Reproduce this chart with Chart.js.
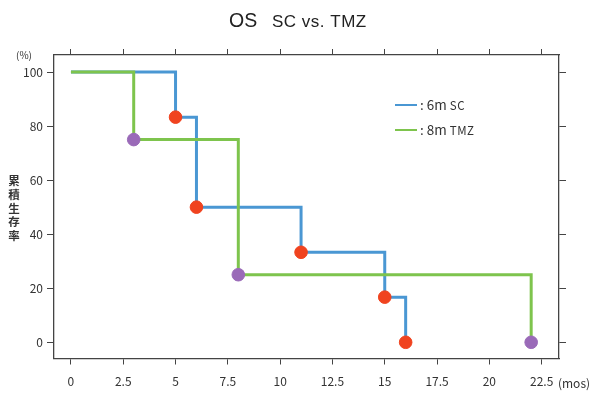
<!DOCTYPE html>
<html>
<head>
<meta charset="utf-8">
<script src="https://cdn.jsdelivr.net/npm/chart.js@4.4.1/dist/chart.umd.min.js"></script>
<style>
  body { margin: 0; background: #fff; }
  #wrap { width: 592px; height: 394px; }
</style>
</head>
<body>
<div id="wrap"><canvas id="osChart"></canvas></div>
<script>
// survival data (months, %)
const scMonths = [0, 5, 6, 11, 15, 16];
const scSurvival = [100, 83.3, 50, 33.3, 16.7, 0];
const tmzMonths = [0, 3, 8, 22];
const tmzSurvival = [100, 75, 25, 0];
// event markers
const scEventMonths = [5, 6, 11, 15, 16];
const scEventSurvival = [83.3, 50, 33.3, 16.7, 0];
const tmzEventMonths = [3, 8, 22];
const tmzEventSurvival = [75, 25, 0];
// tick labels
const xTicks = [0, 2.5, 5, 7.5, 10, 12.5, 15, 17.5, 20, 22.5];
const yTicks = [0, 20, 40, 60, 80, 100];

const blue = '#4a97d3', green = '#7ec44d', red = '#f0431f', purple = '#9a6ab8';
const axisColor = '#444';

function toPoints(xs, ys) {
    return xs.map((x, i) => ({x: x, y: ys[i]}));
}

// draws the title, legend and axis captions
const textPlugin = {
    id: 'texts',
    afterDraw(chart) {
        const ctx = chart.ctx;
        ctx.save();
        ctx.fillStyle = '#222';
        ctx.textBaseline = 'alphabetic';
        ctx.textAlign = 'left';
        // title
        ctx.font = '19.5px "Liberation Sans", Arial, sans-serif';
        ctx.fillText('OS', 229, 27);
        ctx.font = '17px "Liberation Sans", Arial, sans-serif';
        ctx.letterSpacing = '0.5px';
        ctx.fillText('SC vs. TMZ', 272, 27);
        ctx.letterSpacing = '0px';
        // legend
        const rows = [
            {color: blue, big: ': 6m', small: 'SC', y: 105},
            {color: green, big: ': 8m', small: 'TMZ', y: 130}
        ];
        rows.forEach(r => {
            ctx.strokeStyle = r.color;
            ctx.lineWidth = 2;
            ctx.beginPath();
            ctx.moveTo(395, r.y);
            ctx.lineTo(417, r.y);
            ctx.stroke();
            ctx.fillStyle = '#333';
            ctx.font = '13.5px "Noto Sans CJK JP", sans-serif';
            ctx.fillText(r.big, 420, r.y + 5);
            const w = ctx.measureText(r.big + ' ').width;
            ctx.font = '11.5px "Noto Sans CJK JP", sans-serif';
            ctx.letterSpacing = '0.5px';
            ctx.fillText(r.small, 420 + w, r.y + 5);
            ctx.letterSpacing = '0px';
        });
        // y caption, characters stacked
        ctx.fillStyle = '#333';
        ctx.textAlign = 'center';
        ctx.textBaseline = 'middle';
        ctx.font = 'bold 11.5px "Noto Sans CJK JP", sans-serif';
        const yCaption = '累積生存率';
        for (let i = 0; i < yCaption.length; i++) {
            ctx.fillText(yCaption[i], 14, 181 + i * 13.6);
        }
        ctx.font = '10px "Noto Sans CJK JP", sans-serif';
        ctx.fillText('(%)', 24, 55);
        ctx.font = '12px "Noto Sans CJK JP", sans-serif';
        ctx.fillText('(mos)', 574, 383);
        ctx.restore();
    }
};

const tickFont = {family: '"Noto Sans CJK JP", sans-serif', size: 12};

function xAxis(position, height, showLabels) {
    return {
        type: 'linear',
        position: position,
        min: -0.81,
        max: 23.33,
        afterBuildTicks: s => { s.ticks = xTicks.map(v => ({value: v})); },
        afterFit: s => { s.height = height; },
        grid: {drawOnChartArea: false, tickLength: 6, color: axisColor, lineWidth: 1},
        border: {color: axisColor, width: 1.3},
        ticks: {
            display: showLabels, padding: 10, font: tickFont, color: '#333',
            maxRotation: 0, autoSkip: false, callback: v => String(v)
        }
    };
}

function yAxis(position, width, showLabels) {
    return {
        type: 'linear',
        position: position,
        min: -6,
        max: 106.3,
        afterBuildTicks: s => { s.ticks = yTicks.map(v => ({value: v})); },
        afterFit: s => { s.width = width; },
        grid: {drawOnChartArea: false, tickLength: 7, color: axisColor, lineWidth: 1},
        border: {color: axisColor, width: 1.3},
        ticks: {display: showLabels, padding: 4, font: tickFont, color: '#333', callback: v => String(v)}
    };
}

let ctx = document.getElementById('osChart').getContext('2d');
let osChart = new Chart(ctx, {
    type: 'scatter',
    data: {
        datasets: [
            {
                label: 'SC events',
                data: toPoints(scEventMonths, scEventSurvival),
                backgroundColor: red, borderColor: red,
                pointRadius: 6.3, pointHoverRadius: 6.3, showLine: false
            },
            {
                label: 'TMZ events',
                data: toPoints(tmzEventMonths, tmzEventSurvival),
                backgroundColor: purple, borderColor: purple,
                pointRadius: 6.3, pointHoverRadius: 6.3, showLine: false
            },
            {
                label: '8m TMZ',
                data: toPoints(tmzMonths, tmzSurvival),
                borderColor: green, borderWidth: 3,
                showLine: true, stepped: 'before', pointRadius: 0
            },
            {
                label: '6m SC',
                data: toPoints(scMonths, scSurvival),
                borderColor: blue, borderWidth: 3,
                showLine: true, stepped: 'before', pointRadius: 0
            }
        ]
    },
    options: {
        responsive: true,
        maintainAspectRatio: false,
        animation: false,
        layout: {padding: 0},
        plugins: {
            legend: {display: false},
            title: {display: false},
            tooltip: {enabled: false}
        },
        scales: {
            x: xAxis('bottom', 35.5, true),
            x2: xAxis('top', 55, false),
            y: yAxis('left', 54, true),
            y2: yAxis('right', 33, false)
        }
    },
    plugins: [textPlugin]
});
</script>
</body>
</html>
